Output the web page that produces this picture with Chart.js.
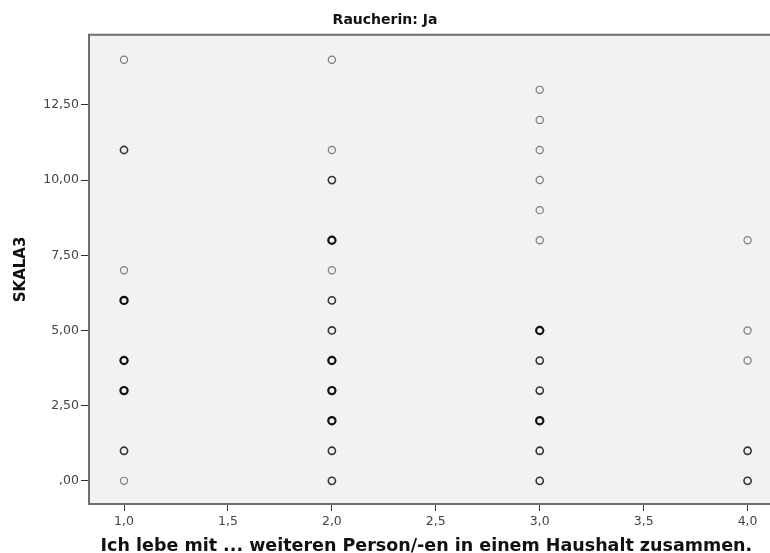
<!DOCTYPE html>
<html lang="de">
<head>
<meta charset="UTF-8">
<title>Raucherin: Ja</title>
<script src="https://cdn.jsdelivr.net/npm/chart.js"></script>
<style>
  html, body { margin: 0; padding: 0; background: #fff; }
  #wrap { width: 770px; height: 553px; }
</style>
</head>
<body>
<div id="wrap"><canvas id="chart" width="770" height="553"></canvas></div>
<script>
// values: x = household size, y = SKALA3
// darker rings in the original are overlapping cases, so they are split by shade
const singleX = [1, 1, 1, 2, 2, 2, 3, 3, 3, 3, 3, 3, 4, 4, 4];
const singleY = [14, 7, 0, 14, 11, 7, 13, 12, 11, 10, 9, 8, 8, 5, 4];
const fewX = [1, 1, 2, 2, 2, 2, 2, 3, 3, 3, 3, 4, 4];
const fewY = [11, 1, 10, 6, 5, 1, 0, 4, 3, 1, 0, 1, 0];
const manyX = [1, 1, 1, 2, 2, 2, 2, 3, 3];
const manyY = [6, 4, 3, 8, 4, 3, 2, 5, 2];

const xTicks = [1, 1.5, 2, 2.5, 3, 3.5, 4];
const xTickLabels = ['1,0', '1,5', '2,0', '2,5', '3,0', '3,5', '4,0'];
const yTicks = [0, 2.5, 5, 7.5, 10, 12.5];
const yTickLabels = [',00', '2,50', '5,00', '7,50', '10,00', '12,50'];

const toPoints = (xs, ys) => xs.map((x, i) => ({ x: x, y: ys[i] }));

const plotFrame = {
  id: 'plotFrame',
  beforeDatasetsDraw(chart) {
    const { ctx, chartArea: a } = chart;
    const right = chart.width + 2;
    ctx.save();
    ctx.fillStyle = '#f2f2f2';
    ctx.fillRect(a.left, a.top, right - a.left, a.bottom - a.top);
    ctx.strokeStyle = '#6e6e6e';
    ctx.lineWidth = 2;
    ctx.beginPath();
    ctx.moveTo(right, a.top);
    ctx.lineTo(a.left, a.top);
    ctx.lineTo(a.left, a.bottom);
    ctx.lineTo(right, a.bottom);
    ctx.stroke();
    ctx.restore();
  }
};

const ring = (color, width) => ({
  pointStyle: 'circle',
  pointRadius: 3.6,
  pointBorderWidth: width,
  pointBorderColor: color,
  pointBackgroundColor: 'rgba(0,0,0,0)',
  showLine: false
});

new Chart(document.getElementById('chart'), {
  type: 'scatter',
  data: {
    datasets: [
      Object.assign({ label: 'einzeln', data: toPoints(singleX, singleY) }, ring('#7a7a7a', 1.2)),
      Object.assign({ label: 'mehrfach', data: toPoints(fewX, fewY) }, ring('#333333', 1.6)),
      Object.assign({ label: 'viele', data: toPoints(manyX, manyY) }, ring('#111111', 2.2))
    ]
  },
  options: {
    responsive: false,
    animation: false,
    layout: { padding: 0 },
    plugins: {
      legend: { display: false },
      tooltip: { enabled: false },
      title: {
        display: true,
        text: 'Raucherin: Ja',
        color: '#111',
        font: { family: 'DejaVu Sans', size: 14, weight: 'bold', lineHeight: 1.2 },
        padding: { top: 12, bottom: 6 }
      }
    },
    scales: {
      x: {
        type: 'linear',
        min: 0.8315,
        max: 4.078,
        afterBuildTicks: s => { s.ticks = xTicks.map(v => ({ value: v })); },
        afterFit: s => { s.height = 49; },
        ticks: {
          autoSkip: false,
          maxRotation: 0,
          padding: 3,
          color: '#444',
          font: { family: 'DejaVu Sans', size: 12.5 },
          callback: (v) => xTickLabels[xTicks.indexOf(v)]
        },
        grid: { drawOnChartArea: false, tickLength: 7, color: '#333', lineWidth: 1 },
        border: { display: false },
        title: {
          display: true,
          text: 'Ich lebe mit ... weiteren Person/-en in einem Haushalt zusammen.',
          color: '#111',
          font: { family: 'DejaVu Sans', size: 17.5, weight: 'bold', lineHeight: 0.8 },
          padding: { top: 0, bottom: 0 }
        }
      },
      y: {
        type: 'linear',
        min: -0.77,
        max: 14.83,
        afterBuildTicks: s => { s.ticks = yTicks.map(v => ({ value: v })); },
        afterFit: s => { s.width = 89; },
        ticks: {
          autoSkip: false,
          padding: 2,
          color: '#444',
          font: { family: 'DejaVu Sans', size: 12.5 },
          callback: (v) => yTickLabels[yTicks.indexOf(v)]
        },
        grid: { drawOnChartArea: false, tickLength: 8, color: '#333', lineWidth: 1 },
        border: { display: false },
        title: {
          display: true,
          text: 'SKALA3',
          color: '#111',
          font: { family: 'DejaVu Sans', size: 15, weight: 'bold', lineHeight: 1.2 },
          padding: { top: 12, bottom: 0 }
        }
      }
    }
  },
  plugins: [plotFrame]
});
</script>
</body>
</html>
